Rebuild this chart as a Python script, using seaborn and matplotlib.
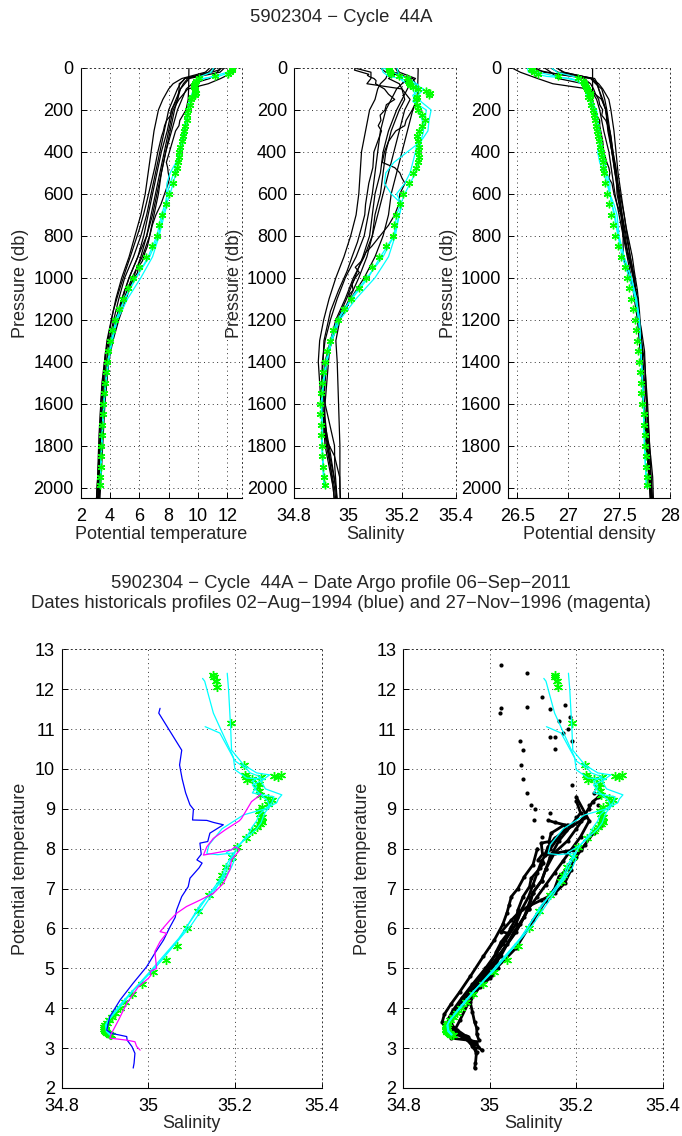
import numpy as np
import matplotlib
matplotlib.use('Agg')
import matplotlib.pyplot as plt
import seaborn as sns

# ---------------- Argo profile (green stars) ----------------
P_argo = [6, 10, 20, 30, 40, 50, 60, 70, 80, 90, 100, 110, 120, 130, 140, 150, 175, 200, 225, 250,
          275, 300, 325, 350, 375, 400, 425, 450, 475, 500, 550, 600, 650, 700, 750, 800, 850, 900, 950, 1000,
          1050, 1100, 1150, 1200, 1250, 1300, 1350, 1400, 1450, 1500, 1550, 1600, 1650, 1700, 1750, 1800, 1850, 1900, 1950, 1990]
T_argo = [12.35, 12.30, 12.20, 12.05, 11.15, 10.10, 9.85, 9.80, 9.72, 9.75, 9.80, 9.82, 9.85, 9.80, 9.62, 9.55, 9.45, 9.35, 9.28, 9.22,
          9.12, 9.05, 8.95, 8.88, 8.80, 8.72, 8.68, 8.62, 8.55, 8.45, 8.28, 8.05, 7.80, 7.55, 7.35, 7.20, 6.85, 6.45, 6.00, 5.55,
          5.20, 4.90, 4.60, 4.35, 4.15, 4.00, 3.88, 3.78, 3.70, 3.63, 3.58, 3.53, 3.49, 3.46, 3.43, 3.40, 3.38, 3.36, 3.34, 3.32]
S_argo = [35.150, 35.152, 35.155, 35.158, 35.190, 35.220, 35.222, 35.225, 35.228, 35.240, 35.260, 35.290, 35.305, 35.300, 35.255, 35.250, 35.255, 35.258, 35.275, 35.285,
          35.275, 35.262, 35.255, 35.258, 35.262, 35.260, 35.262, 35.258, 35.250, 35.240, 35.225, 35.205, 35.192, 35.178, 35.170, 35.165, 35.140, 35.115, 35.090, 35.065,
          35.040, 35.010, 34.985, 34.962, 34.946, 34.934, 34.924, 34.916, 34.909, 34.904, 34.900, 34.898, 34.898, 34.899, 34.900, 34.902, 34.905, 34.908, 34.911, 34.914]
SIG_argo = [26.64, 26.65, 26.67, 26.70, 26.90, 27.10, 27.15, 27.16, 27.17, 27.18, 27.19, 27.20, 27.21, 27.21, 27.20, 27.21, 27.22, 27.24, 27.25, 27.26,
            27.27, 27.28, 27.29, 27.30, 27.31, 27.32, 27.33, 27.34, 27.34, 27.35, 27.36, 27.38, 27.40, 27.42, 27.44, 27.46, 27.49, 27.52, 27.56, 27.58,
            27.60, 27.62, 27.64, 27.66, 27.67, 27.68, 27.69, 27.70, 27.71, 27.72, 27.72, 27.73, 27.74, 27.74, 27.75, 27.75, 27.76, 27.76, 27.77, 27.77]

# ---------------- other cycles of the float (cyan) ----------------
P_cyan = [0, 20, 40, 50, 60, 80, 100, 130, 160, 200, 250, 300, 350, 400, 450, 500, 550, 600, 650, 700,
          800, 900, 1000, 1100, 1200, 1300, 1400, 1500, 1600, 1800, 2000]
T_cyan1 = [12.27, 12.2, 11.4, 10.3, 9.98, 9.77, 9.75, 9.6, 9.45, 9.35, 9.2, 9.05, 8.92, 8.8, 8.65, 8.5, 8.3, 8.1, 7.85, 7.6,
           7.3, 6.7, 5.75, 5.0, 4.45, 4.1, 3.85, 3.7, 3.58, 3.42, 3.33]
S_cyan1 = [35.125, 35.13, 35.15, 35.196, 35.20, 35.227, 35.269, 35.24, 35.25, 35.26, 35.275, 35.28, 35.27, 35.265, 35.26, 35.25, 35.23, 35.21, 35.195, 35.18,
           35.17, 35.13, 35.07, 35.01, 34.965, 34.94, 34.92, 34.908, 34.902, 34.904, 34.912]
SIG_cyan1 = [26.60, 26.61, 26.79, 27.03, 27.09, 27.15, 27.18, 27.19, 27.22, 27.24, 27.28, 27.31, 27.32, 27.34, 27.36, 27.37, 27.39, 27.41, 27.43, 27.46,
             27.49, 27.55, 27.62, 27.67, 27.70, 27.71, 27.72, 27.73, 27.74, 27.75, 27.77]
T_cyan2 = [12.4, 12.0, 11.0, 10.47, 10.1, 9.9, 9.85, 9.7, 9.5, 9.35, 9.25, 9.15, 9.0, 8.85, 8.5, 8.1, 7.88, 7.85, 7.9, 7.7,
           7.35, 6.9, 6.1, 5.2, 4.5, 4.15, 3.9, 3.72, 3.6, 3.44, 3.34]
S_cyan2 = [35.182, 35.185, 35.19, 35.192, 35.22, 35.25, 35.28, 35.26, 35.27, 35.308, 35.30, 35.296, 35.27, 35.22, 35.17, 35.14, 35.135, 35.16, 35.2, 35.19,
           35.175, 35.15, 35.1, 35.03, 34.97, 34.94, 34.922, 34.91, 34.903, 34.905, 34.913]
SIG_cyan2 = [26.61, 26.70, 26.89, 26.99, 27.08, 27.14, 27.17, 27.18, 27.23, 27.28, 27.29, 27.30, 27.31, 27.29, 27.31, 27.35, 27.38, 27.41, 27.43, 27.45,
             27.49, 27.53, 27.60, 27.66, 27.69, 27.71, 27.72, 27.73, 27.74, 27.75, 27.77]
T_cyan3 = [11.06, 10.9, 10.2, 10.0, 9.9, 9.8, 9.7, 9.55, 9.4, 9.3, 9.15, 9.0, 8.85, 8.7, 8.55, 8.35, 8.1, 7.9, 7.75, 7.5,
           7.2, 6.6, 5.8, 5.0, 4.4, 4.08, 3.85, 3.7, 3.57, 3.42, 3.33]
S_cyan3 = [35.131, 35.165, 35.2, 35.227, 35.235, 35.26, 35.24, 35.25, 35.24, 35.29, 35.285, 35.27, 35.255, 35.25, 35.24, 35.23, 35.21, 35.18, 35.2, 35.19,
           35.17, 35.12, 35.075, 35.015, 34.96, 34.935, 34.918, 34.907, 34.901, 34.903, 34.911]
SIG_cyan3 = [26.84, 26.89, 27.05, 27.11, 27.13, 27.17, 27.17, 27.20, 27.22, 27.27, 27.29, 27.31, 27.32, 27.34, 27.36, 27.38, 27.41, 27.41, 27.45, 27.48,
             27.50, 27.55, 27.62, 27.67, 27.70, 27.71, 27.72, 27.73, 27.74, 27.75, 27.77]

# ---------------- historical profiles (black) ----------------
P_hist = [0, 20, 50, 75, 100, 150, 200, 300, 400, 500, 600, 700, 800, 900, 1000, 1100, 1200, 1300, 1400, 1600, 1800, 2000, 2200]
T_hist1 = [11.6, 11.3, 10.8, 9.6, 9.2, 8.9, 8.6, 8.2, 7.8, 7.5, 7.2, 6.9, 6.5, 5.9, 5.3, 4.8, 4.4, 4.1, 3.85, 3.6, 3.45, 3.3, 3.15]
S_hist1 = [35.175, 35.185, 35.15, 35.19, 35.20, 35.21, 35.19, 35.16, 35.14, 35.13, 35.12, 35.10, 35.09, 35.06, 35.02, 34.99, 34.955, 34.935, 34.92, 34.91, 34.925, 34.945, 34.96]
SIG_hist1 = [26.77, 26.83, 26.90, 27.15, 27.22, 27.28, 27.31, 27.35, 27.40, 27.43, 27.46, 27.50, 27.54, 27.60, 27.64, 27.675, 27.69, 27.71, 27.72, 27.74, 27.77, 27.80, 27.82]
T_hist2 = [12.6, 12.4, 11.55, 10.7, 9.3, 8.7, 8.3, 8.0, 7.7, 7.4, 7.1, 6.8, 6.5, 6.1, 5.6, 5.1, 4.6, 4.2, 3.9, 3.6, 3.42, 3.25, 3.1]
S_hist2 = [35.025, 35.085, 35.085, 35.07, 35.20, 35.23, 35.21, 35.19, 35.17, 35.15, 35.13, 35.11, 35.09, 35.07, 35.04, 35.005, 34.97, 34.94, 34.92, 34.905, 34.92, 34.95, 34.965]
SIG_hist2 = [26.45, 26.53, 26.70, 26.85, 27.20, 27.33, 27.37, 27.40, 27.43, 27.46, 27.49, 27.52, 27.54, 27.58, 27.62, 27.65, 27.68, 27.70, 27.72, 27.74, 27.77, 27.81, 27.83]
T_hist3 = [10.8, 10.5, 8.9, 8.3, 8.0, 7.6, 7.3, 7.0, 6.8, 6.6, 6.4, 6.1, 5.7, 5.3, 4.8, 4.4, 4.1, 3.85, 3.65, 3.45, 3.35, 3.2, 3.0]
S_hist3 = [35.14, 35.15, 35.14, 35.12, 35.11, 35.10, 35.08, 35.065, 35.05, 35.045, 35.04, 35.03, 35.01, 34.985, 34.955, 34.93, 34.91, 34.895, 34.89, 34.9, 34.93, 34.955, 34.965]
SIG_hist3 = [26.89, 26.96, 27.23, 27.30, 27.34, 27.40, 27.42, 27.45, 27.47, 27.49, 27.52, 27.55, 27.58, 27.61, 27.65, 27.67, 27.69, 27.70, 27.72, 27.75, 27.78, 27.81, 27.84]
T_hist4 = [11.2, 10.9, 9.1, 8.8, 8.6, 8.3, 8.0, 7.7, 7.4, 7.1, 6.8, 6.5, 6.1, 5.6, 5.0, 4.6, 4.25, 3.95, 3.75, 3.5, 3.35, 3.15, 2.9]
S_hist4 = [35.16, 35.17, 35.23, 35.2, 35.18, 35.16, 35.14, 35.12, 35.11, 35.10, 35.09, 35.075, 35.06, 35.03, 34.99, 34.96, 34.935, 34.915, 34.905, 34.9, 34.925, 34.955, 34.97]
SIG_hist4 = [26.83, 26.90, 27.26, 27.29, 27.30, 27.34, 27.37, 27.40, 27.43, 27.47, 27.50, 27.53, 27.57, 27.61, 27.65, 27.67, 27.69, 27.71, 27.72, 27.74, 27.78, 27.82, 27.85]
T_hist5 = [11.8, 11.5, 9.4, 9.1, 8.8, 8.6, 8.4, 8.1, 7.8, 7.5, 7.3, 7.0, 6.7, 6.2, 5.5, 4.95, 4.5, 4.15, 3.9, 3.65, 3.5, 3.35, 3.2]
S_hist5 = [35.12, 35.14, 35.24, 35.25, 35.26, 35.26, 35.24, 35.22, 35.2, 35.18, 35.16, 35.15, 35.13, 35.1, 35.06, 35.01, 34.97, 34.955, 34.96, 34.965, 34.97, 34.97, 34.975]
SIG_hist5 = [26.68, 26.76, 27.22, 27.27, 27.33, 27.36, 27.38, 27.41, 27.44, 27.47, 27.48, 27.52, 27.55, 27.59, 27.65, 27.67, 27.69, 27.72, 27.75, 27.78, 27.80, 27.81, 27.83]
T_hist6 = [11.0, 10.7, 9.3, 9.0, 8.8, 8.5, 8.2, 7.9, 7.5, 7.2, 6.9, 6.6, 6.3, 5.9, 5.3, 4.85, 4.4, 4.05, 3.8, 3.55, 3.4, 3.25, 3.05]
S_hist6 = [35.18, 35.19, 35.25, 35.23, 35.22, 35.2, 35.18, 35.15, 35.13, 35.12, 35.10, 35.09, 35.08, 35.055, 35.025, 34.995, 34.96, 34.935, 34.915, 34.905, 34.915, 34.945, 34.96]
SIG_hist6 = [26.89, 26.95, 27.24, 27.28, 27.30, 27.33, 27.37, 27.39, 27.43, 27.46, 27.50, 27.53, 27.56, 27.59, 27.64, 27.67, 27.70, 27.72, 27.73, 27.74, 27.77, 27.80, 27.83]

# historical profile 02-Aug-1994 (blue)
P_blue = [0, 10, 30, 35, 40, 45, 50, 60, 75, 100, 125, 150, 175, 200, 225, 250, 275, 300, 325, 400, 475, 550, 650,
          700, 760, 830, 900, 970, 1060, 1160, 1300, 1500, 1600, 1800, 1900, 2100, 2300, 2600, 2800]
T_blue = [11.52, 11.40, 10.47, 10.10, 9.75, 9.40, 9.10, 8.99, 8.72, 8.71, 8.66, 8.60, 8.39, 8.18, 8.14, 7.86, 7.72, 7.64, 7.52, 7.26, 7.05, 6.80, 6.46,
          6.28, 6.04, 5.71, 5.38, 5.04, 4.63, 4.21, 3.79, 3.45, 3.37, 3.29, 3.20, 3.04, 2.87, 2.62, 2.50]
S_blue = [35.027, 35.024, 35.077, 35.072, 35.078, 35.086, 35.096, 35.104, 35.102, 35.135, 35.150, 35.173, 35.142, 35.137, 35.119, 35.122, 35.112, 35.124, 35.117, 35.096, 35.092, 35.077, 35.065,
          35.062, 35.050, 35.035, 35.015, 34.996, 34.965, 34.935, 34.911, 34.904, 34.915, 34.950, 34.951, 34.962, 34.969, 34.967, 34.965]
SIG_blue = [26.67, 26.69, 26.91, 26.97, 27.04, 27.10, 27.16, 27.18, 27.22, 27.25, 27.27, 27.30, 27.31, 27.34, 27.33, 27.37, 27.39, 27.41, 27.42, 27.44, 27.47, 27.49, 27.53,
            27.55, 27.57, 27.60, 27.63, 27.65, 27.68, 27.70, 27.72, 27.75, 27.77, 27.80, 27.81, 27.83, 27.86, 27.88, 27.88]

# historical profile 27-Nov-1996 (magenta)
P_mag = [0, 50, 100, 150, 200, 250, 275, 300, 350, 400, 450, 475, 500, 525, 550, 600, 650, 700, 750, 800,
         850, 880, 900, 920, 950, 975, 1000, 1030, 1060, 1080, 1100, 1130, 1170, 1250, 1350, 1600, 1750, 1850, 1950, 2100, 2300]
T_mag = [9.38, 9.37, 9.36, 9.33, 9.18, 8.76, 8.70, 8.47, 8.26, 8.05, 7.84, 7.93, 7.97, 8.05, 7.97, 7.72, 7.47, 7.13, 6.88, 6.71,
         6.55, 6.38, 6.30, 6.21, 5.92, 5.88, 5.67, 5.42, 5.00, 4.92, 4.83, 4.75, 4.54, 4.12, 3.70, 3.37, 3.25, 3.20, 3.16, 3.04, 2.95]
S_mag = [35.260, 35.259, 35.258, 35.256, 35.238, 35.215, 35.210, 35.177, 35.150, 35.135, 35.127, 35.173, 35.192, 35.200, 35.211, 35.192, 35.188, 35.173, 35.150, 35.119,
         35.088, 35.065, 35.058, 35.050, 35.027, 35.042, 35.027, 35.015, 35.019, 35.004, 35.006, 35.000, 34.977, 34.950, 34.931, 34.915, 34.911, 34.950, 34.969, 34.973, 34.981]
SIG_mag = [27.24, 27.24, 27.24, 27.24, 27.25, 27.31, 27.31, 27.32, 27.34, 27.35, 27.38, 27.40, 27.41, 27.40, 27.43, 27.45, 27.48, 27.52, 27.54, 27.54,
           27.54, 27.54, 27.54, 27.55, 27.57, 27.59, 27.60, 27.62, 27.68, 27.67, 27.69, 27.69, 27.69, 27.72, 27.75, 27.77, 27.78, 27.81, 27.83, 27.84, 27.86]

TITLE_TOP = "5902304 \u2212 Cycle  44A"
TITLE_BOT1 = "5902304 \u2212 Cycle  44A \u2212 Date Argo profile 06\u2212Sep\u22122011"
TITLE_BOT2 = "Dates historicals profiles 02\u2212Aug\u22121994 (blue) and 27\u2212Nov\u22121996 (magenta)"

# ---------------- styling ----------------
sns.set_style('ticks')
plt.rcParams['font.family'] = ['Liberation Sans', 'DejaVu Sans']
plt.rcParams['font.size'] = 13

GREEN, CYAN, BLUE, MAG = '#00ff00', '#00ffff', '#0000ff', '#ff00ff'
DOT = (0, (1, 3.5))

fig = plt.figure(figsize=(6.82, 11.36), dpi=100)
W, H = 682.0, 1136.0


def add_ax(l, t, r, b):
    return fig.add_axes([l / W, 1 - b / H, (r - l) / W, (b - t) / H])


def style(ax):
    ax.grid(True, color='#333333', linestyle=DOT, linewidth=0.7)
    ax.set_axisbelow(True)
    for s in ['left', 'bottom']:
        ax.spines[s].set_color('k')
        ax.spines[s].set_linewidth(0.8)
    for s in ['top', 'right']:
        ax.spines[s].set_color('#333333')
        ax.spines[s].set_linestyle(DOT)
        ax.spines[s].set_linewidth(0.7)
    ax.tick_params(direction='in', length=4, width=0.7, labelsize=13, colors='k')
    ax.tick_params(axis='y', pad=5)
    ax.tick_params(axis='x', pad=7)


def line(ax, x, y, color, lw=0.9, z=2):
    sns.lineplot(x=x, y=y, sort=False, estimator=None, color=color, linewidth=lw, ax=ax, zorder=z)


def stars(ax, x, y, z=4, ms=5.5):
    sns.lineplot(x=x, y=y, sort=False, estimator=None, color=GREEN, linestyle='none',
                 marker=(6, 2, 0), markersize=ms, markeredgecolor=GREEN, markeredgewidth=1.0,
                 ax=ax, zorder=z)


hist_T = [T_hist1, T_hist2, T_hist3, T_hist4, T_hist5, T_hist6]
hist_S = [S_hist1, S_hist2, S_hist3, S_hist4, S_hist5, S_hist6]
hist_SIG = [SIG_hist1, SIG_hist2, SIG_hist3, SIG_hist4, SIG_hist5, SIG_hist6]
cyan_T = [T_cyan1, T_cyan2, T_cyan3]
cyan_S = [S_cyan1, S_cyan2, S_cyan3]
cyan_SIG = [SIG_cyan1, SIG_cyan2, SIG_cyan3]

ax1 = add_ax(80.7, 68, 242, 498)
ax2 = add_ax(294, 68, 456, 498)
ax3 = add_ax(508, 68, 670, 498)
ax4 = add_ax(61.7, 649.3, 321.7, 1088)
ax5 = add_ax(403.3, 649.3, 662.7, 1088)

# ---- top row: profiles vs pressure ----
top_specs = [
    (ax1, hist_T, T_blue, T_mag, cyan_T, T_argo, 'Potential temperature'),
    (ax2, hist_S, S_blue, S_mag, cyan_S, S_argo, 'Salinity'),
    (ax3, hist_SIG, SIG_blue, SIG_mag, cyan_SIG, SIG_argo, 'Potential density'),
]
for ax, hv, bv, mv, cv, av, lab in top_specs:
    for v in hv:
        line(ax, v, P_hist, 'k')
    line(ax, bv, P_blue, 'k')
    line(ax, mv, P_mag, 'k')
    for v in cv:
        line(ax, v, P_cyan, CYAN, z=3)
    stars(ax, av, P_argo)
    ax.set_ylim(2050, 0)
    ax.set_yticks(np.arange(0, 2001, 200))
    ax.set_xlabel(lab, labelpad=1)
    ax.set_ylabel('Pressure (db)', labelpad=3)
    style(ax)

ax1.set_xlim(2, 13)
ax1.set_xticks([2, 4, 6, 8, 10, 12])
ax2.set_xlim(34.8, 35.4)
ax2.set_xticks([34.8, 35.0, 35.2, 35.4])
ax2.set_xticklabels(['34.8', '35', '35.2', '35.4'])
ax3.set_xlim(26.41, 28)
ax3.set_xticks([26.5, 27.0, 27.5, 28.0])
ax3.set_xticklabels(['26.5', '27', '27.5', '28'])

# ---- bottom left: theta-S with two historical profiles ----
stars(ax4, S_argo, T_argo, z=2, ms=6.5)
for s, t in zip(cyan_S, cyan_T):
    line(ax4, s, t, CYAN, z=3)
line(ax4, S_blue, T_blue, BLUE, z=4)
line(ax4, S_mag, T_mag, MAG, z=5)

# ---- bottom right: theta-S with all historical data ----
all_S = hist_S + [S_blue, S_mag]
all_T = hist_T + [T_blue, T_mag]
all_P = [P_hist] * len(hist_S) + [P_blue, P_mag]
for s, t, p in zip(all_S, all_T, all_P):
    deep = [i for i, pp in enumerate(p) if pp >= 100]
    line(ax5, [s[i] for i in deep], [t[i] for i in deep], 'k', lw=2.0, z=1)
    sns.scatterplot(x=s, y=t, color='k', s=9, linewidth=0, ax=ax5, zorder=1)
stars(ax5, S_argo, T_argo, z=2, ms=6.5)
for s, t in zip(cyan_S, cyan_T):
    line(ax5, s, t, CYAN, z=3)

for ax in (ax4, ax5):
    ax.set_xlim(34.8, 35.4)
    ax.set_ylim(2, 13)
    ax.set_xticks([34.8, 35.0, 35.2, 35.4])
    ax.set_xticklabels(['34.8', '35', '35.2', '35.4'])
    ax.set_yticks(np.arange(2, 14, 1))
    ax.set_xlabel('Salinity', labelpad=0)
    ax.set_ylabel('Potential temperature', labelpad=4)
    style(ax)

fig.text(0.5, 1 - 18 / H, TITLE_TOP, ha='center', va='center', fontsize=13.3)
fig.text(0.5, 1 - 583 / H, TITLE_BOT1, ha='center', va='center', fontsize=13.3)
fig.text(0.5, 1 - 603 / H, TITLE_BOT2, ha='center', va='center', fontsize=13.3)

fig.savefig('out.png', dpi=100)
